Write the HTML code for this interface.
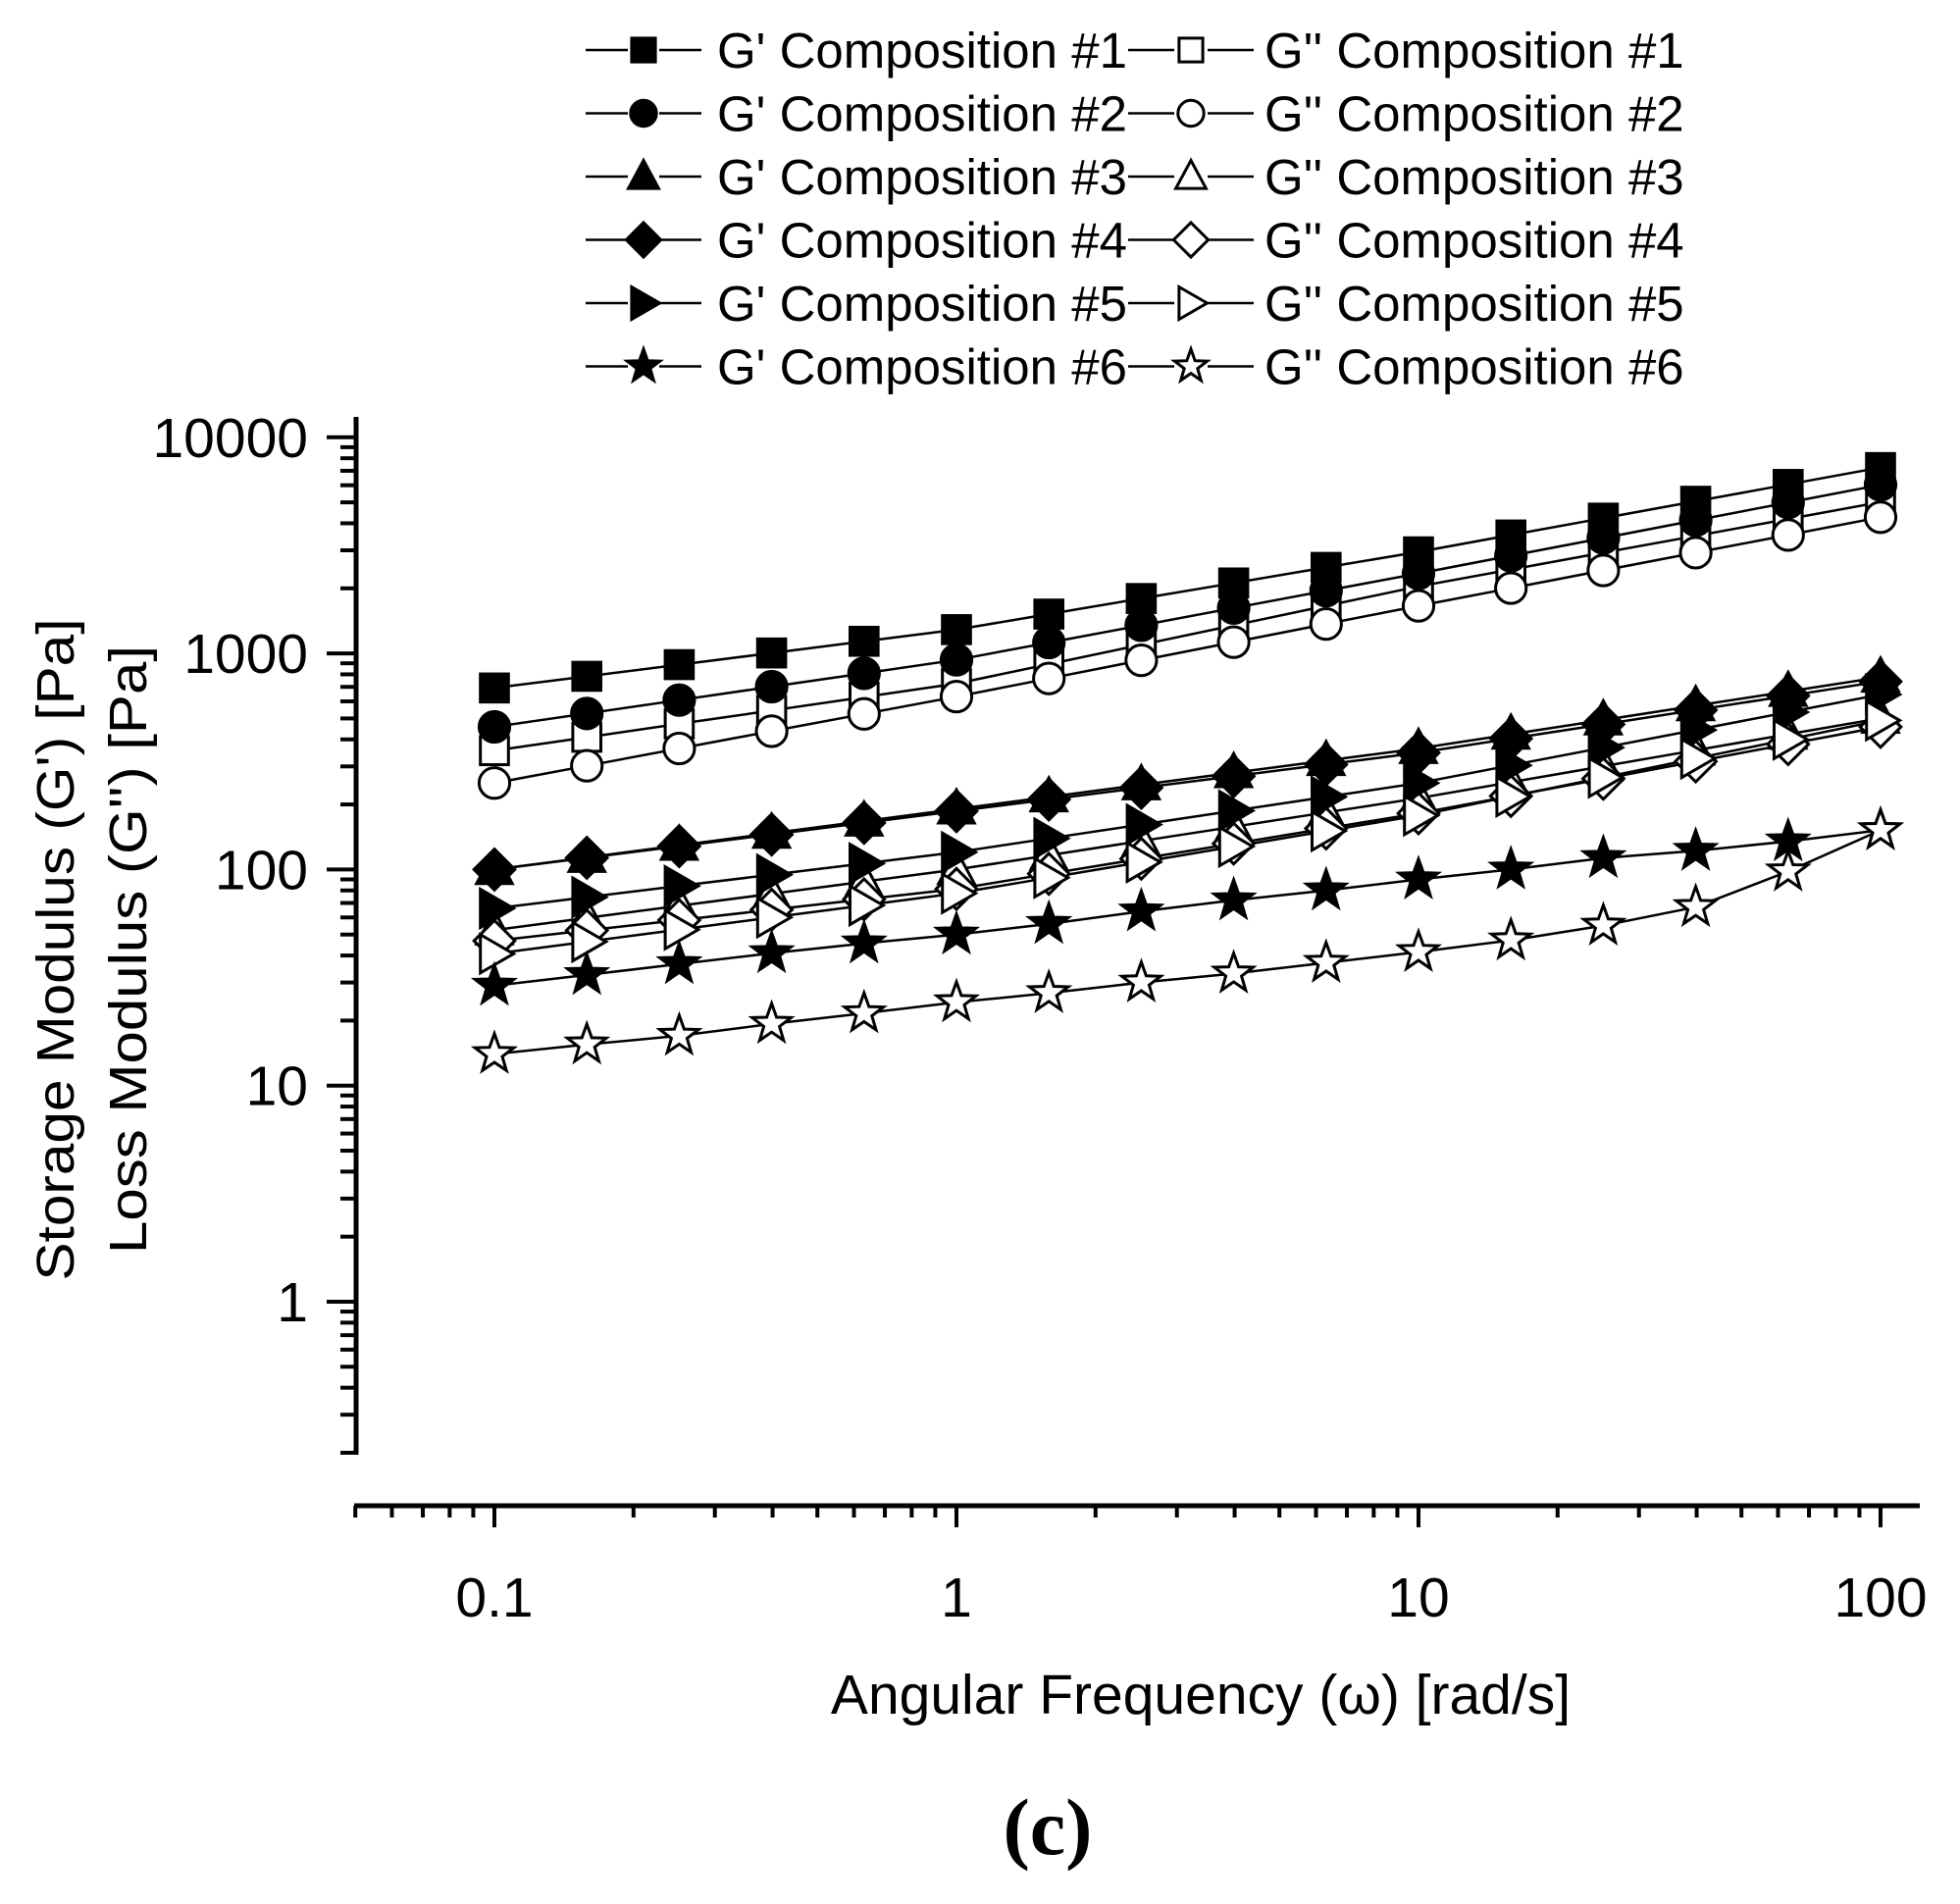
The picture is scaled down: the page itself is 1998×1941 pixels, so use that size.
<!DOCTYPE html>
<html><head><meta charset="utf-8"><style>
html,body{margin:0;padding:0;background:#fff;}
svg{display:block;}
text{font-family:"Liberation Sans",Arial,sans-serif;fill:#000;}
</style></head><body>
<svg id="s" width="1998" height="1941" viewBox="0 0 1998 1941" xmlns="http://www.w3.org/2000/svg"></svg>
<script>
const S=document.getElementById('s');
let h='';
const X=w=>975+471*Math.log10(w);
const Y=v=>1327-220.3*Math.log10(v);
h+='<line x1="363" y1="425" x2="363" y2="1483" stroke="#000" stroke-width="5"/>';
h+='<line x1="361" y1="1535" x2="1957" y2="1535" stroke="#000" stroke-width="5"/>';
for(let d=-1;d<=4;d++){for(let m=1;m<10;m++){const v=m*Math.pow(10,d);const y=Y(v);if(y<425||y>1484)continue;
 const L=m==1?30:16;h+=`<line x1="${363-L}" y1="${y}" x2="363" y2="${y}" stroke="#000" stroke-width="4"/>`;}}
const yl=[[1,'1'],[10,'10'],[100,'100'],[1000,'1000'],[10000,'10000']];
yl.forEach(([v,t])=>{h+=`<text x="314" y="${Y(v)+20}" font-size="57" text-anchor="end">${t}</text>`;});
for(let d=-2;d<=2;d++){for(let m=1;m<10;m++){const w=m*Math.pow(10,d);const x=X(w);if(x<361||x>1957)continue;
 const L=m==1?22:12;h+=`<line x1="${x}" y1="1535" x2="${x}" y2="${1535+L}" stroke="#000" stroke-width="4"/>`;}}
[[0.1,'0.1'],[1,'1'],[10,'10'],[100,'100']].forEach(([w,t])=>{h+=`<text x="${X(w)}" y="1648" font-size="57" text-anchor="middle">${t}</text>`;});
h+='<text x="1224" y="1747" font-size="57" text-anchor="middle">Angular Frequency (ω) [rad/s]</text>';
h+='<text transform="translate(75,968) rotate(-90)" font-size="54" text-anchor="middle" textLength="675" lengthAdjust="spacingAndGlyphs">Storage Modulus (G\') [Pa]</text>';
h+='<text transform="translate(149,968) rotate(-90)" font-size="54" text-anchor="middle" textLength="620" lengthAdjust="spacingAndGlyphs">Loss Modulus (G\'\') [Pa]</text>';
h+='<text x="1068" y="1890" font-size="82" font-weight="bold" text-anchor="middle" style="font-family:\'Liberation Serif\',serif">(c)</text>';
function mk(t,x,y,fill,k){k=k||1.3;const f=fill?'#000':'#fff';const st=`fill="${f}" stroke="#000" stroke-width="3"`;
 switch(t){
 case 'sq':return `<rect x="${x-11*k}" y="${y-11*k}" width="${22*k}" height="${22*k}" ${st}/>`;
 case 'ci':return `<circle cx="${x}" cy="${y}" r="${12*k}" ${st}/>`;
 case 'tr':return `<polygon points="${x},${y-15*k} ${x+14*k},${y+11*k} ${x-14*k},${y+11*k}" ${st}/>`;
 case 'di':return `<polygon points="${x},${y-16*k} ${x+16*k},${y} ${x},${y+16*k} ${x-16*k},${y}" ${st}/>`;
 case 'rt':return `<polygon points="${x-11*k},${y-15*k} ${x+15*k},${y} ${x-11*k},${y+15*k}" ${st}/>`;
 case 'st':{let p=[];for(let i=0;i<10;i++){const r=(i%2?6.5:16)*k;const a=-Math.PI/2+i*Math.PI/5;p.push((x+r*Math.cos(a)).toFixed(1)+','+(y+r*Math.sin(a)).toFixed(1));}return `<polygon points="${p.join(' ')}" ${st}/>`;}
 }}
const W=[];for(let i=0;i<16;i++)W.push(Math.pow(10,-1+i*0.2));
function pw(a,b,c,d){const L=[a,b,c,d];return W.map((w,i)=>{const seg=Math.min(2,Math.floor(i/5));const f=(i-seg*5)/5;return Math.pow(10,L[seg]+(L[seg+1]-L[seg])*f);});}
const series=[
 ['sq',1,pw(2.84,3.11,3.47,3.86)],['sq',0,pw(2.55,2.86,3.31,3.70)],
 ['ci',1,pw(2.66,2.97,3.37,3.78)],['ci',0,pw(2.40,2.80,3.22,3.63)],
 ['tr',1,pw(2.0,2.28,2.56,2.89)],['tr',0,pw(1.72,2.0,2.33,2.70)],
 ['di',1,pw(2.0,2.27,2.54,2.87)],['di',0,pw(1.67,1.91,2.26,2.66)],
 ['rt',1,pw(1.82,2.08,2.40,2.81)],['rt',0,pw(1.61,1.89,2.25,2.69)],
 ['st',1,[29,32.5,36.5,41,45.5,50,56,64,72,80,90,100,113,122,135,152]],
 ['st',0,[14,15.5,17,19.3,21.6,24.3,26.8,30,33,37,41.5,47,55,67,98,152]]];
let lines='',marks='';
series.forEach(([t,f,v])=>{const pts=v.map((y,i)=>X(W[i]).toFixed(1)+','+Y(y).toFixed(1));
 lines+=`<polyline points="${pts.join(' ')}" fill="none" stroke="#000" stroke-width="2.5"/>`;
 v.forEach((y,i)=>{marks+=mk(t,X(W[i]),Y(y),f);});});
h+=lines+marks;
const names=['sq','ci','tr','di','rt','st'];
names.forEach((t,i)=>{const y=51+i*64.5;
 h+=`<line x1="597" y1="${y}" x2="640" y2="${y}" stroke="#000" stroke-width="2.5"/><line x1="672" y1="${y}" x2="715" y2="${y}" stroke="#000" stroke-width="2.5"/>`+mk(t,656,y,1,1.1);
 h+=`<text x="731" y="${y+18}" font-size="51">G' Composition #${i+1}</text>`;
 h+=`<line x1="1150" y1="${y}" x2="1197" y2="${y}" stroke="#000" stroke-width="2.5"/><line x1="1231" y1="${y}" x2="1278" y2="${y}" stroke="#000" stroke-width="2.5"/>`+mk(t,1214,y,0,1.1);
 h+=`<text x="1289" y="${y+18}" font-size="51">G'' Composition #${i+1}</text>`;});
S.innerHTML=h;
</script>
</body></html>
